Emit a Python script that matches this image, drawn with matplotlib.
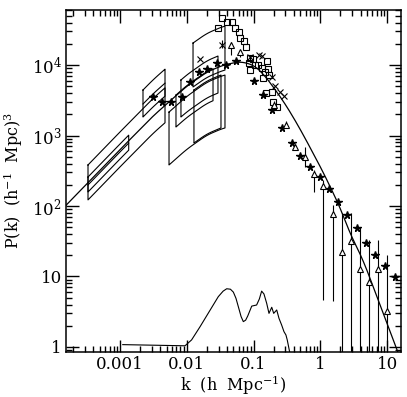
import numpy as np
import matplotlib.pyplot as plt
from matplotlib.ticker import FixedLocator, FixedFormatter, LogLocator, NullFormatter

# ── model power spectrum (solid line) ─────────────────────────────────────────
model_k = [1.55e-4, 1e-3, 3.16e-3, 0.01, 0.02, 0.0355, 0.063, 0.1, 0.141, 0.2,
           0.282, 0.398, 0.562, 1.1, 1.95, 2.75, 4.37, 10.0, 15.8]
model_p = [102, 631, 1905, 5010, 7940, 10000, 11200, 10000, 7410, 4790,
           3020, 1780, 1000, 302, 97.7, 41.7, 17.0, 2.14, 0.676]

# ── window function (lower curve) ────────────────────────────────────────────
win_k = [0.0011, 0.0094, 0.0118, 0.0158, 0.0222, 0.0296, 0.035, 0.0396, 0.045,
         0.0498, 0.0545, 0.0591, 0.065, 0.0702, 0.076, 0.0817, 0.0938, 0.111,
         0.122, 0.132, 0.143, 0.157, 0.170, 0.187, 0.200, 0.222, 0.240, 0.263,
         0.285, 0.305, 0.319, 0.351]
win_p = [1.08, 1.04, 1.26, 1.94, 3.3, 5.17, 6.2, 6.7, 6.6,
         6.0, 4.9, 3.73, 2.7, 2.29, 2.4, 2.75, 3.8, 3.94,
         4.8, 6.2, 5.65, 4.17, 3.0, 3.66, 3.0, 3.35, 2.55, 2.05,
         1.65, 1.48, 1.26, 0.8]

# ── amplitude boxes: k range, P at left edge (top / bottom / centre) ─────────
box_k1  = [3.32e-4, 3.32e-4, 2.21e-3, 5.42e-3, 6.89e-3, 8.18e-3, 0.0124, 0.0128]
box_k2  = [4.72e-3, 1.35e-3, 4.72e-3, 0.0373, 0.0247, 0.0293, 0.0373, 0.0325]
box_top = [382, 258, 4420, 2150, 3750, 6130, 20500, 4420]
box_bot = [122, 158, 1830, 382, 1320, 1830, 4880, 783]
box_mid = [None, 199, 2800, None, None, None, None, None]

# ── data points ──────────────────────────────────────────────────────────────
star_k = [0.00312, 0.00425, 0.0059, 0.00847, 0.01117, 0.01523, 0.0203, 0.0286,
          0.039, 0.054, 0.0997, 0.136, 0.1866, 0.2634, 0.372, 0.495, 0.699,
          0.987, 1.36, 1.853, 2.53, 3.49, 4.81, 6.57, 9.27, 13.1]
star_p = [3520, 2990, 2990, 3520, 5650, 7960, 8770, 10570,
          10000, 11400, 5990, 3750, 2300, 1277, 783, 504, 363,
          258, 174, 115, 74.5, 48.3, 29.9, 20.2, 13.9, 9.84]

tri_k  = [0.0467, 0.0632, 0.202, 0.309, 0.424, 0.588, 0.816, 1.105, 1.53,
          2.13, 2.87, 3.92, 5.38, 7.28, 10.1]
tri_p  = [19200, 15400, 2710, 1432, 694, 500, 284, 192, 77,
          22.5, 31.6, 12.6, 8.44, 12.6, 3.19]
tri_hi = [21400, 16300, 3100, 1600, 760, 694, 324, 234, 103,
          79.6, 79.6, 50.4, 32.9, 32.9, 20.2]
tri_lo = [13900, 13100, 2400, 1280, 630, 361, 160, 4.64, 4.49,
          0.1, 0.1, 0.1, 0.1, 0.1, 0.1]

cross_k  = [0.01577, 0.0336, 0.0874, 0.1217, 0.135, 0.1866, 0.209, 0.248, 0.285]
cross_p  = [12200, 19200, 13100, 13900, 13600, 6830, 5040, 4180, 3630]
cross_hi = [12200, 22600, 13100, 13900, 13600, 6830, 5040, 4180, 3630]
cross_lo = [12200, 17400, 13100, 13900, 13600, 6830, 5040, 4180, 3630]

sq_k = [0.0293, 0.0336, 0.040, 0.0475, 0.0527, 0.0605, 0.0626, 0.0718, 0.0769,
        0.0853, 0.0883, 0.0883, 0.098, 0.105, 0.1164, 0.1336, 0.138, 0.148,
        0.153, 0.1588, 0.164, 0.170, 0.188, 0.195, 0.224]
sq_p = [33500, 46400, 40700, 40700, 33500, 29400, 24200, 21900, 18000,
        10700, 12600, 8490, 12200, 10000, 10000, 9060, 6540, 7960,
        4010, 11400, 8770, 7210, 4140, 2990, 2540]

x_ticks = [0.001, 0.01, 0.1, 1, 10]
x_labels = ['0.001', '0.01', '0.1', '1', '10']
y_ticks = [1, 10, 100, 1000, 10000]
y_labels = ['1', '10', r'10$^2$', r'10$^3$', r'10$^4$']

plt.rcParams['font.family'] = ['DejaVu Serif']
plt.rcParams['mathtext.fontset'] = 'dejavuserif'

# smooth model in log-log space
lk = np.log10(model_k)
lp = np.log10(model_p)
grid = np.linspace(lk[0], lk[-1], 600)
lp_g = np.interp(grid, lk, lp)
w = 21
sm = np.convolve(np.pad(lp_g, w // 2, mode='edge'), np.ones(w) / w, mode='valid')
sm[:w] = lp_g[:w]
sm[-w:] = lp_g[-w:]


def model_log(logk):
    return np.interp(logk, grid, sm)


fig = plt.figure(figsize=(4.07, 3.97), dpi=100)
ax = fig.add_axes([66 / 407, 45 / 397, 335 / 407, 342.5 / 397])
ax.set_xscale('log')
ax.set_yscale('log')

ax.plot(10 ** grid, 10 ** sm, color='black', lw=0.9)
ax.plot(win_k, win_p, color='black', lw=0.8)

# boxes follow the model shape
for k1, k2, pt, pb, pm in zip(box_k1, box_k2, box_top, box_bot, box_mid):
    lg = np.linspace(np.log10(k1), np.log10(k2), 60)
    shape = model_log(lg) - model_log(lg[0])
    top = pt * 10 ** shape
    bot = pb * 10 ** shape
    kk = 10 ** lg
    ax.plot(np.r_[kk, kk[::-1], kk[0]], np.r_[top, bot[::-1], top[0]],
            color='black', lw=0.8)
    if pm is not None:
        ax.plot(kk, pm * 10 ** shape, color='black', lw=0.8)

ax.plot(star_k, star_p, ls='none', marker='*', ms=5.5, color='black')
ax.errorbar(tri_k, tri_p,
            yerr=[np.array(tri_p) - np.array(tri_lo), np.array(tri_hi) - np.array(tri_p)],
            fmt='^', ms=4.5, mfc='white', mec='black', mew=0.8,
            ecolor='black', elinewidth=0.8, capsize=0)
ax.errorbar(cross_k, cross_p,
            yerr=[np.array(cross_p) - np.array(cross_lo), np.array(cross_hi) - np.array(cross_p)],
            fmt='x', ms=5, color='black', mew=0.8, elinewidth=0.8, capsize=0)
ax.plot(sq_k, sq_p, ls='none', marker='s', ms=4.5, mfc='none', mec='black', mew=0.8)

ax.set_xlim(1.555e-4, 16.1)
ax.set_ylim(0.849, 61300)

ax.xaxis.set_major_locator(FixedLocator(x_ticks))
ax.xaxis.set_major_formatter(FixedFormatter(x_labels))
ax.yaxis.set_major_locator(FixedLocator(y_ticks))
ax.yaxis.set_major_formatter(FixedFormatter(y_labels))
ax.xaxis.set_minor_locator(LogLocator(base=10, subs=np.arange(2, 10), numticks=20))
ax.yaxis.set_minor_locator(LogLocator(base=10, subs=np.arange(2, 10), numticks=20))
ax.xaxis.set_minor_formatter(NullFormatter())
ax.yaxis.set_minor_formatter(NullFormatter())

ax.tick_params(which='both', direction='in', top=True, right=True, width=1.0,
               labelsize=12)
ax.tick_params(axis='x', which='major', pad=3)
ax.tick_params(axis='y', which='major', pad=3)
ax.tick_params(which='major', length=9)
ax.tick_params(which='minor', length=4.5)
for s in ax.spines.values():
    s.set_linewidth(1.1)

ax.set_xlabel(r'k  (h  Mpc$^{-1}$)', fontsize=11.5, labelpad=0)
ax.set_ylabel(r'P(k)  (h$^{-1}$  Mpc)$^3$', fontsize=11.5, labelpad=5)

fig.savefig('out.png', dpi=100)
